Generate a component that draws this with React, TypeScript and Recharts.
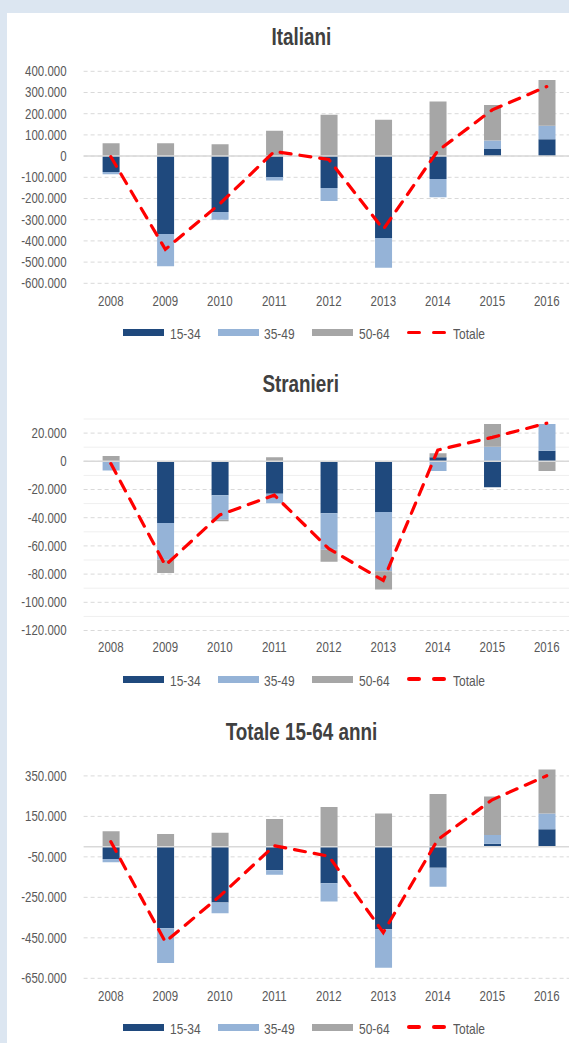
import React from 'react';
import {
  ComposedChart,
  Bar,
  Line,
  XAxis,
  YAxis,
  CartesianGrid,
  ReferenceLine,
  Legend,
} from 'recharts';

// ---------- data ----------
const years = ['2008', '2009', '2010', '2011', '2012', '2013', '2014', '2015', '2016'];
const seriesNames = ['15-34', '35-49', '50-64', 'Totale'];

// Italiani
const itA = [-75000, -367000, -264000, -99000, -151000, -386000, -108000, 33000, 80000];
const itB = [-11000, -152000, -36000, -16000, -61000, -141000, -86000, 40000, 63000];
const itC = [61000, 61000, 56000, 119000, 195000, 171000, 258000, 168000, 216000];
const itT = [-3000, -440000, -225000, 22000, -16000, -345000, 25000, 218000, 328000];

// Stranieri
const stA = [-400, -43800, -24000, -23000, -36900, -36000, 2800, -18400, 7500];
const stB = [-6200, -26000, -17400, -6800, -25800, -42000, -6900, 10400, 19000];
const stC = [3800, -9500, -1200, 2800, -8500, -13000, 2900, 16100, -6900];
const stT = [-1600, -73800, -38000, -24000, -62000, -84500, 8000, 17000, 27000];

// Totale 15-64 anni
const toA = [-60000, -403000, -276000, -116000, -180000, -408000, -104000, 15000, 87000];
const toB = [-17000, -172000, -53000, -23000, -90000, -190000, -94000, 43000, 77000];
const toC = [76000, 63000, 69000, 137000, 196000, 164000, 261000, 190000, 218000];
const toT = [25000, -470000, -244000, 5000, -47000, -424000, 35000, 232000, 351000];

// axis ticks
const itTicks = [-600000, -500000, -400000, -300000, -200000, -100000, 0, 100000, 200000, 300000, 400000];
const stTicks = [-120000, -100000, -80000, -60000, -40000, -20000, 0, 20000];
const stMinor = [-110000, -90000, -70000, -50000, -30000, -10000, 10000, 30000];
const toTicks = [-650000, -450000, -250000, -50000, 150000, 350000];

// ---------- styles ----------
const FONT = "'Liberation Sans', Arial, sans-serif";
const SX = 0.82; // horizontal condensing of the text
const C_DARK = '#1F497D';
const C_LIGHT = '#95B3D7';
const C_GRAY = '#A6A6A6';
const C_RED = '#FF0000';
const TXT = '#595959';
const CHART_W = 586;

const fmt = (v: number) => {
  const s = Math.abs(v).toString().replace(/\B(?=(\d{3})+(?!\d))/g, '.');
  return (v < 0 ? '-' : '') + s;
};

const build = (a: number[], b: number[], c: number[], t: number[]) =>
  years.map((y, i) => ({ year: y, a: a[i], b: b[i], c: c[i], tot: t[i] }));

const YTick = (props: any) => {
  const { x, y, payload } = props;
  return (
    <text
      x={x}
      y={y}
      dy="0.355em"
      textAnchor="end"
      fill={TXT}
      fontSize={14}
      fontFamily={FONT}
      transform={`translate(${x},0) scale(${SX},1) translate(${-x},0)`}
    >
      {fmt(payload.value)}
    </text>
  );
};

const XTick = (props: any) => {
  const { x, y, payload } = props;
  return (
    <text
      x={x}
      y={y}
      dy="0.71em"
      textAnchor="middle"
      fill={TXT}
      fontSize={14}
      fontFamily={FONT}
      transform={`translate(${x},0) scale(${SX},1) translate(${-x},0)`}
    >
      {payload.value}
    </text>
  );
};

const legendX = [115, 209.5, 304, 398.5];

const LegendContent = (props: any) => {
  const payload: any[] = props.payload || [];
  return (
    <div style={{ position: 'relative', width: CHART_W, height: 20 }}>
      {payload.map((p, i) => {
        const x = legendX[i] ?? 115 + i * 94.5;
        const isLine = p.type === 'line' || p.value === 'Totale';
        return (
          <div key={i}>
            {isLine ? (
              <>
                <div style={{ position: 'absolute', left: x, top: 8.2, width: 14, height: 3.6, background: C_RED, borderRadius: 2 }} />
                <div style={{ position: 'absolute', left: x + 25.5, top: 8.2, width: 14, height: 3.6, background: C_RED, borderRadius: 2 }} />
              </>
            ) : (
              <div style={{ position: 'absolute', left: x, top: 6.65, width: 41, height: 6.7, background: p.color }} />
            )}
            <div
              style={{
                position: 'absolute',
                left: x + 46.5,
                top: 3.3,
                fontFamily: FONT,
                fontSize: 15,
                lineHeight: '15px',
                color: TXT,
                whiteSpace: 'nowrap',
                transform: 'scaleX(0.8)',
                transformOrigin: '0 0',
              }}
            >
              {p.value}
            </div>
          </div>
        );
      })}
    </div>
  );
};

type PanelProps = {
  title: string;
  titleTop: number;
  top: number;
  height: number;
  marginTop: number;
  marginBottom: number;
  tickMargin: number;
  legendCenter: number;
  domain: [number, number];
  ticks: number[];
  minor?: number[];
  data: any[];
};

const Panel = (p: PanelProps) => (
  <>
    <div
      style={{
        position: 'absolute',
        left: 8,
        top: p.titleTop,
        width: CHART_W,
        textAlign: 'center',
        fontFamily: FONT,
        fontWeight: 'bold',
        fontSize: 23,
        lineHeight: '23px',
        color: '#404040',
      }}
    >
      <span style={{ display: 'inline-block', transform: `scaleX(${SX})`, transformOrigin: '50% 50%', whiteSpace: 'nowrap' }}>
        {p.title}
      </span>
    </div>
    <div style={{ position: 'absolute', left: 8, top: p.top, width: CHART_W, height: p.height }}>
      <ComposedChart
        width={CHART_W}
        height={p.height}
        data={p.data}
        stackOffset="sign"
        margin={{ top: p.marginTop, right: 20, bottom: p.marginBottom, left: 0 }}
      >
        {p.minor ? (
          <CartesianGrid vertical={false} stroke="#EFEFEF" horizontalValues={p.minor} syncWithTicks />
        ) : null}
        <CartesianGrid vertical={false} stroke="#D9D9D9" strokeDasharray="4 3" horizontalValues={p.ticks} syncWithTicks />
        <XAxis
          dataKey="year"
          axisLine={false}
          tickLine={false}
          tickSize={0}
          tickMargin={p.tickMargin}
          height={30}
          interval={0}
          tick={<XTick />}
        />
        <YAxis
          type="number"
          width={75.6}
          domain={p.domain}
          ticks={p.ticks}
          allowDataOverflow
          interval={0}
          axisLine={false}
          tickLine={false}
          tickSize={0}
          tickMargin={17}
          tick={<YTick />}
        />
        <Bar dataKey="a" name={seriesNames[0]} stackId="s" fill={C_DARK} barSize={17} isAnimationActive={false} />
        <Bar dataKey="b" name={seriesNames[1]} stackId="s" fill={C_LIGHT} barSize={17} isAnimationActive={false} />
        <Bar dataKey="c" name={seriesNames[2]} stackId="s" fill={C_GRAY} barSize={17} isAnimationActive={false} />
        <ReferenceLine y={0} stroke="#D9D9D9" strokeWidth={1.5} />
        <Line
          dataKey="tot"
          name={seriesNames[3]}
          type="linear"
          stroke={C_RED}
          strokeWidth={3.2}
          strokeDasharray="11 9"
          strokeLinecap="round"
          dot={false}
          activeDot={false}
          isAnimationActive={false}
        />
        <Legend
          verticalAlign="middle"
          align="center"
          layout="horizontal"
          wrapperStyle={{ top: p.legendCenter - 10, left: 0, width: CHART_W, height: 20 }}
          content={<LegendContent />}
        />
      </ComposedChart>
    </div>
  </>
);

export default function App() {
  return (
    <div
      style={{
        position: 'fixed',
        left: 0,
        top: 0,
        width: 569,
        height: 1043,
        overflow: 'hidden',
        background: '#DCE6F1',
      }}
    >
      <div style={{ position: 'absolute', left: 7, top: 13, width: 620, height: 1100, background: '#FFFFFF' }} />
      <Panel
        title="Italiani"
        titleTop={25.5}
        top={13}
        height={337}
        marginTop={58.3}
        marginBottom={36.7}
        tickMargin={12.5}
        legendCenter={319.7}
        domain={[-600000, 400000]}
        ticks={itTicks}
        data={build(itA, itB, itC, itT)}
      />
      <Panel
        title="Stranieri"
        titleTop={372.8}
        top={350}
        height={345}
        marginTop={69}
        marginBottom={34.5}
        tickMargin={11.3}
        legendCenter={329.3}
        domain={[-120000, 30000]}
        ticks={stTicks}
        minor={stMinor}
        data={build(stA, stB, stC, stT)}
      />
      <Panel
        title="Totale 15-64 anni"
        titleTop={720.5}
        top={695}
        height={348}
        marginTop={72.8}
        marginBottom={34.7}
        tickMargin={12.5}
        legendCenter={332.3}
        domain={[-650000, 390000]}
        ticks={toTicks}
        data={build(toA, toB, toC, toT)}
      />
    </div>
  );
}
